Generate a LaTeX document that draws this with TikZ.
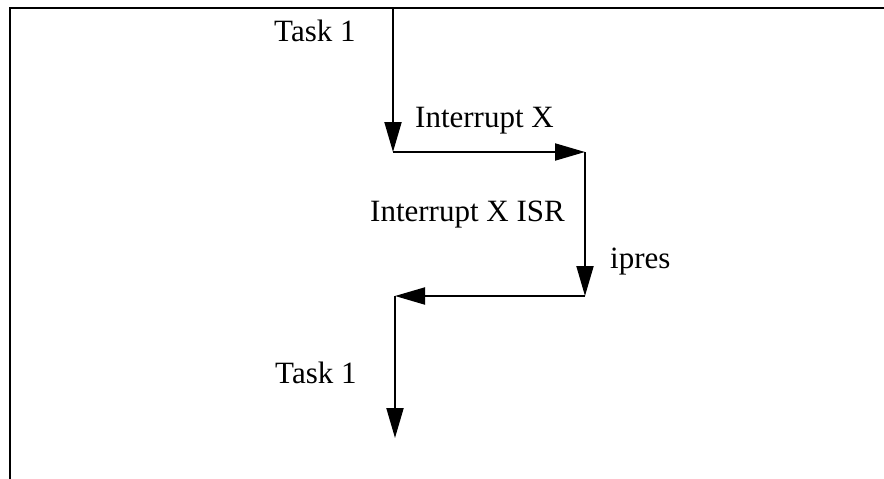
\documentclass[tikz,border=0pt]{standalone}
\usepackage{fontspec}
\setmainfont{Liberation Serif}
\usetikzlibrary{arrows.meta}
\begin{document}
\begin{tikzpicture}[x=1pt,y=-1pt,
  frameline/.style={line width=2.8pt},
  flow/.style={line width=2pt,-{Triangle[length=30pt,width=17pt]}},
  lbl/.style={anchor=base west,inner sep=0pt,font=\fontsize{31}{36}\selectfont}]
\useasboundingbox (0,0) rectangle (884,479);
% frame
\coordinate (fl) at (10,479);
\coordinate (fc) at (10,8);
\coordinate (fr) at (884,8);
\draw[frameline] (fl) -- (fc) -- (fr);
% flow points
\coordinate (p0) at (393,8);
\coordinate (p1) at (393,152);
\coordinate (p2) at (585,152);
\coordinate (p3) at (585,296);
\coordinate (p4) at (395,296);
\coordinate (p5) at (395,438);
\draw[flow] (p0) -- (p1);
\draw[flow] (p1) -- (p2);
\draw[flow] (p2) -- (p3);
\draw[flow] (p3) -- (p4);
\draw[flow] (p4) -- (p5);
% labels
\node[lbl] (t1) at (274,41) {Task 1};
\node[lbl] (ix) at (415,127) {Interrupt X};
\node[lbl] (isr) at (370,221) {Interrupt X ISR};
\node[lbl] (ip) at (610,268) {ipres};
\node[lbl] (t2) at (275,383) {Task 1};
\end{tikzpicture}
\end{document}
